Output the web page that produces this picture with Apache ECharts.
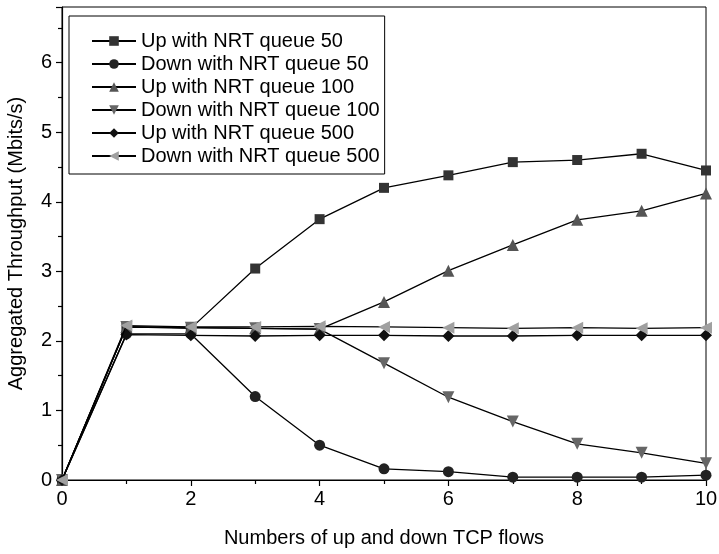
<!DOCTYPE html>
<html>
<head>
<meta charset="utf-8">
<script src="https://cdn.jsdelivr.net/npm/echarts@6/dist/echarts.min.js"></script>
<style>html,body{margin:0;padding:0;background:#fff;}#c{width:719px;height:554px;}</style>
</head>
<body>
<div id="c"></div>
<script>
var flows = [0, 1, 2, 3, 4, 5, 6, 7, 8, 9, 10];
var up50    = [0, 2.20, 2.18, 3.04, 3.75, 4.20, 4.38, 4.57, 4.60, 4.69, 4.45];
var down50  = [0, 2.10, 2.10, 1.20, 0.50, 0.16, 0.12, 0.04, 0.04, 0.04, 0.07];
var up100   = [0, 2.20, 2.19, 2.18, 2.17, 2.56, 3.01, 3.38, 3.74, 3.87, 4.12];
var down100 = [0, 2.20, 2.19, 2.18, 2.17, 1.68, 1.19, 0.84, 0.52, 0.39, 0.24];
var up500   = [0, 2.09, 2.08, 2.07, 2.08, 2.08, 2.07, 2.07, 2.08, 2.08, 2.08];
var down500 = [0, 2.22, 2.20, 2.20, 2.21, 2.20, 2.19, 2.18, 2.19, 2.18, 2.19];
var names = ['Up with NRT queue 50','Down with NRT queue 50','Up with NRT queue 100','Down with NRT queue 100','Up with NRT queue 500','Down with NRT queue 500'];

function pts(arr){ return flows.map(function(x,i){ return [x, arr[i]]; }); }
function mk(name, arr, symbol, size, color, rot, z){
  return {
    name: name, type: 'line', data: pts(arr), symbol: symbol, symbolSize: size,
    symbolRotate: rot || 0, showAllSymbol: true, z: z,
    lineStyle: {color: '#000', width: 1.3},
    itemStyle: {color: color, borderColor: color, borderWidth: 0},
    emphasis: {disabled: true}, animation: false
  };
}
var font = 'Liberation Sans, Arial, sans-serif';
var chart = echarts.init(document.getElementById('c'), null, {renderer: 'canvas'});
chart.setOption({
  animation: false,
  backgroundColor: '#fff',
  grid: {left: 62, right: 13, top: 7, bottom: 74, show: true, borderColor: '#000', borderWidth: 1,
         containLabel: false, outerBoundsMode: 'none'},
  legend: {
    orient: 'vertical', left: 69, top: 16,
    padding: [15, 5, 8, 22], itemGap: 3, itemWidth: 44, itemHeight: 12,
    borderColor: '#000', borderWidth: 1,
    textStyle: {fontFamily: font, fontSize: 20, color: '#000'},
    data: names
  },
  xAxis: {
    type: 'value', min: 0, max: 10, interval: 2,
    name: 'Numbers of up and down TCP flows', nameLocation: 'middle', nameGap: 48,
    nameTextStyle: {fontFamily: font, fontSize: 20, color: '#000'},
    axisLine: {lineStyle: {color: '#000', width: 1.2}},
    axisTick: {inside: false, length: 6, lineStyle: {color: '#000', width: 1.2}},
    minorTick: {show: true, splitNumber: 2, length: 4, lineStyle: {color: '#000', width: 1.2}},
    axisLabel: {fontFamily: font, fontSize: 20, color: '#000', margin: 9},
    splitLine: {show: false}
  },
  yAxis: {
    type: 'value', min: 0, max: 6.8, interval: 1,
    name: 'Aggregated Throughput (Mbits/s)', nameLocation: 'middle', nameGap: 36,
    nameTextStyle: {fontFamily: font, fontSize: 20, color: '#000'},
    axisLine: {lineStyle: {color: '#000', width: 1.2}},
    axisTick: {inside: false, length: 6, lineStyle: {color: '#000', width: 1.2}},
    minorTick: {show: true, splitNumber: 2, length: 4, lineStyle: {color: '#000', width: 1.2}},
    axisLabel: {fontFamily: font, fontSize: 20, color: '#000', margin: 10, showMaxLabel: false,
      formatter: function(v){ return Math.abs(v - Math.round(v)) < 1e-6 ? String(Math.round(v)) : ''; }},
    splitLine: {show: false}
  },
  series: [
    mk(names[0], up50, 'rect', 10, '#333', 0, 3),
    mk(names[1], down50, 'circle', 11, '#222', 0, 3),
    mk(names[2], up100, 'triangle', 12, '#555', 0, 3),
    mk(names[3], down100, 'triangle', 12, '#666', 180, 3),
    mk(names[4], up500, 'diamond', 12, '#111', 0, 4),
    mk(names[5], down500, 'triangle', 12, '#a0a0a0', 90, 5)
  ]
});
</script>
</body>
</html>
